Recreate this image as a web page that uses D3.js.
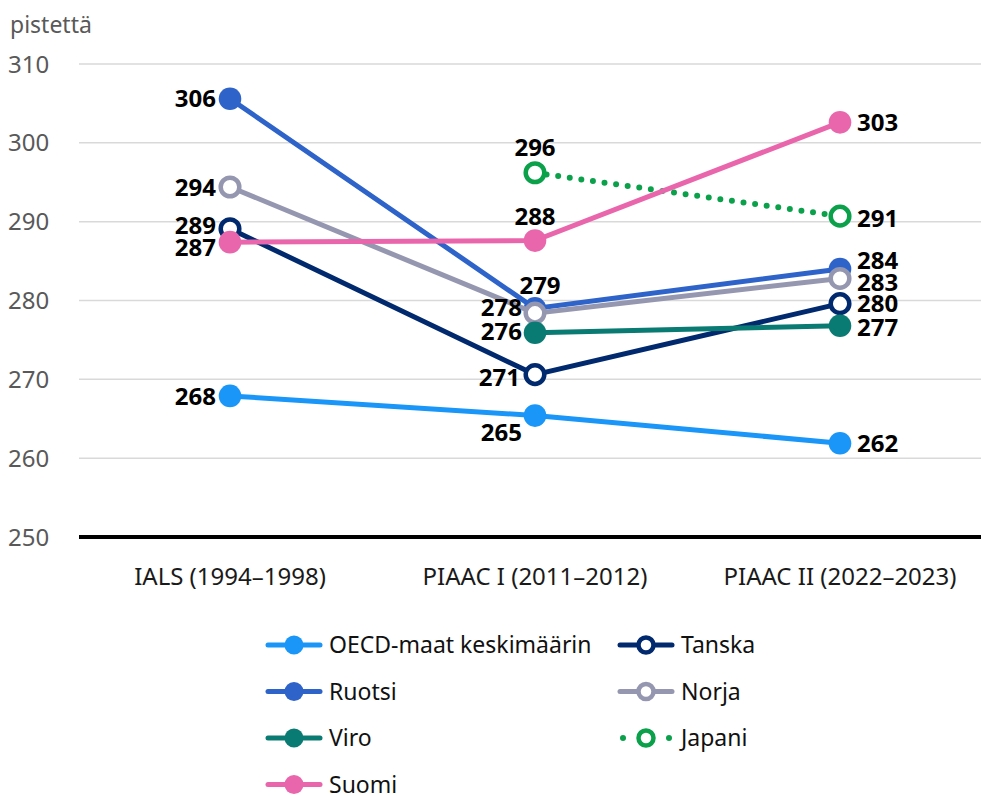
<html>
<head>
	<script src="https://d3js.org/d3.v7.min.js"></script>
	<title>Lukutaito</title>
	<style>
		body{
			margin: 0;
			background: #ffffff;
		}
		svg{
			font-family: "Noto Sans", "Open Sans", sans-serif;
		}
		.grid line{
			stroke: #d9d9d9;
			stroke-width: 1.5px;
		}
		.ytick{
			fill: #595959;
			font-size: 24px;
		}
		.xtick{
			fill: #1a1a1a;
			font-size: 24px;
		}
		.val{
			fill: #000000;
			font-size: 24px;
			font-weight: bold;
		}
		.legend text{
			fill: #111111;
			font-size: 23px;
		}
	</style>
</head>
<body>
	<svg width="981" height="796"></svg>

	<script>
		// data
		var categories = ["IALS (1994–1998)", "PIAAC I (2011–2012)", "PIAAC II (2022–2023)"];
		var yTicks = [250, 260, 270, 280, 290, 300, 310];

		var oecd   = [267.9, 265.4, 261.9];
		var ruotsi = [305.6, 279.0, 284.0];
		var viro   = [null, 275.9, 276.8];
		var suomi  = [287.4, 287.6, 302.6];
		var tanska = [289.1, 270.6, 279.6];
		var norja  = [294.4, 278.4, 282.8];
		var japani = [null, 296.2, 290.7];

		var series = [
			{name: "OECD-maat keskimäärin", key: "oecd", values: oecd, color: "#1996f8", open: false, dotted: false},
			{name: "Ruotsi", key: "ruotsi", values: ruotsi, color: "#2e63c9", open: false, dotted: false},
			{name: "Norja", key: "norja", values: norja, color: "#9597b0", open: true, dotted: false},
			{name: "Tanska", key: "tanska", values: tanska, color: "#00296e", open: true, dotted: false},
			{name: "Viro", key: "viro", values: viro, color: "#0a7b73", open: false, dotted: false},
			{name: "Japani", key: "japani", values: japani, color: "#0ba14b", open: true, dotted: true},
			{name: "Suomi", key: "suomi", values: suomi, color: "#e966ac", open: false, dotted: false}
		];

		// label placement per point: [dx, dy, anchor]
		var labelPos = {
			"oecd0": [-14, 0, "end"], "oecd1": [-13, 17, "end"], "oecd2": [17, 0, "start"],
			"ruotsi0": [-14, 0, "end"], "ruotsi1": [5, -23, "middle"], "ruotsi2": [17, -9, "start"],
			"norja0": [-14, 0, "end"], "norja1": [-13, -6, "end"], "norja2": [17, 4, "start"],
			"tanska0": [-14, -3, "end"], "tanska1": [-15, 3, "end"], "tanska2": [17, 0, "start"],
			"viro1": [-13, -1, "end"], "viro2": [17, 2, "start"],
			"japani1": [0, -25, "middle"], "japani2": [17, 2, "start"],
			"suomi0": [-14, 5, "end"], "suomi1": [0, -24, "middle"], "suomi2": [17, 0, "start"]
		};

		var svg = d3.select("svg");

		var x = d3.scalePoint()
			.domain(categories)
			.range([230, 840]);

		var y = d3.scaleLinear()
			.domain([250, 310])
			.range([537, 64]);

		// unit label
		svg.append("text")
			.attr("class", "ytick")
			.attr("x", 10)
			.attr("y", 33)
			.style("font-size", "23px")
			.text("pistettä");

		// gridlines
		svg.append("g")
			.attr("class", "grid")
			.selectAll("line")
			.data(yTicks.filter(function(d){ return d > 250; }))
			.enter()
			.append("line")
				.attr("x1", 79)
				.attr("x2", 981)
				.attr("y1", function(d){ return y(d); })
				.attr("y2", function(d){ return y(d); });

		// baseline
		svg.append("line")
			.attr("x1", 79)
			.attr("x2", 981)
			.attr("y1", y(250))
			.attr("y2", y(250))
			.style("stroke", "#000")
			.style("stroke-width", 4);

		// y tick labels
		svg.selectAll(".ytick.num")
			.data(yTicks)
			.enter()
			.append("text")
				.attr("class", "ytick num")
				.attr("x", 8)
				.attr("y", function(d){ return y(d); })
				.attr("dy", "0.36em")
				.text(function(d){ return d; });

		// category labels
		svg.selectAll(".xtick")
			.data(categories)
			.enter()
			.append("text")
				.attr("class", "xtick")
				.attr("x", function(d){ return x(d); })
				.attr("y", 576)
				.attr("dy", "0.36em")
				.attr("text-anchor", "middle")
				.text(function(d){ return d; });

		var line = d3.line()
			.defined(function(d){ return d != null; })
			.x(function(d, i){ return x(categories[i]); })
			.y(function(d){ return y(d); });

		// series
		series.forEach(function(s){
			var g = svg.append("g");

			g.append("path")
				.datum(s.values)
				.attr("d", line)
				.style("fill", "none")
				.style("stroke", s.color)
				.style("stroke-width", s.dotted ? 6 : 5)
				.style("stroke-linecap", "round")
				.style("stroke-dasharray", s.dotted ? "0 11.7" : null);

			var pts = s.values.map(function(v, i){ return {v: v, i: i}; })
				.filter(function(d){ return d.v != null; });

			g.selectAll("circle")
				.data(pts)
				.enter()
				.append("circle")
					.attr("cx", function(d){ return x(categories[d.i]); })
					.attr("cy", function(d){ return y(d.v); })
					.attr("r", s.open ? 9.3 : 11.3)
					.style("fill", s.open ? "#fff" : s.color)
					.style("stroke", s.open ? s.color : "none")
					.style("stroke-width", s.open ? 4.5 : 0);
		});

		// value labels on top
		series.forEach(function(s){
			s.values.forEach(function(v, i){
				if(v == null) return;
				var p = labelPos[s.key + i];
				svg.append("text")
					.attr("class", "val")
					.attr("x", x(categories[i]) + p[0])
					.attr("y", y(v) + p[1])
					.attr("dy", "0.36em")
					.attr("text-anchor", p[2])
					.text(Math.round(v));
			});
		});

		// legend
		var legendOrder = ["oecd", "tanska", "ruotsi", "norja", "viro", "japani", "suomi"];
		var legend = svg.append("g").attr("class", "legend");

		legendOrder.forEach(function(k, j){
			var s = series.find(function(d){ return d.key == k; });
			var col = j % 2, row = Math.floor(j / 2);
			var lx = col == 0 ? 268 : 620;
			var ly = 645 + row * 46.5;

			var item = legend.append("g").attr("transform", "translate(" + lx + "," + ly + ")");

			if(s.dotted){
				// two dots either side of the marker
				item.selectAll(".dot")
					.data([3, 49])
					.enter()
					.append("circle")
						.attr("cx", function(d){ return d; })
						.attr("r", 3)
						.style("fill", s.color);
			} else {
				item.append("line")
					.attr("x1", 0)
					.attr("x2", 52)
					.style("stroke", s.color)
					.style("stroke-width", 5)
					.style("stroke-linecap", "round");
			}

			item.append("circle")
				.attr("cx", 26)
				.attr("r", s.open ? 7.5 : 9.5)
				.style("fill", s.open ? "#fff" : s.color)
				.style("stroke", s.open ? s.color : "none")
				.style("stroke-width", s.open ? 4.5 : 0);

			item.append("text")
				.attr("x", 61)
				.attr("dy", "0.36em")
				.text(s.name);
		});
	</script>
</body>
</html>
